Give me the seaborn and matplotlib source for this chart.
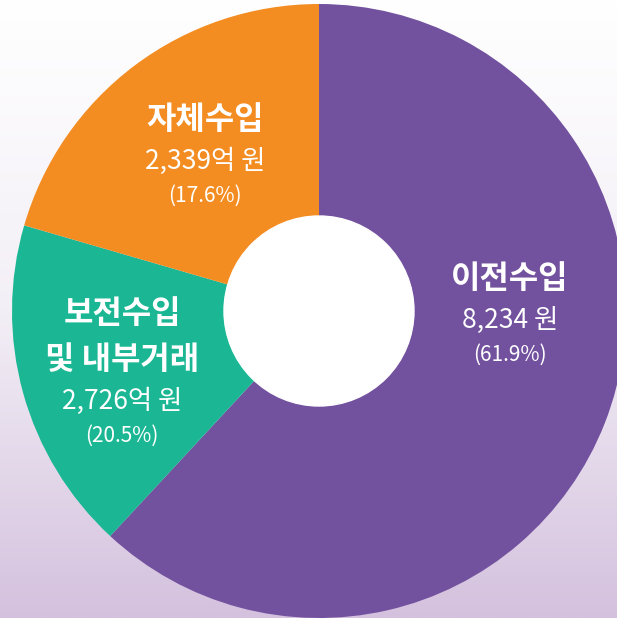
import numpy as np
import matplotlib.pyplot as plt
import matplotlib.colors as mcolors
from matplotlib.patches import Circle
import seaborn as sns

# data (wedge shares as drawn in the picture, clockwise from 12 o'clock)
categories = ['이전수입', '보전수입\n및 내부거래', '자체수입']
wedge_share = [61.9, 17.6, 20.5]
amount_labels = ['8,234 원', '2,726억 원', '2,339억 원']
pct_labels = ['(61.9%)', '(20.5%)', '(17.6%)']
colors = ['#72519e', '#1bb794', '#f38c21']

sns.set_theme(style='white')
plt.rcParams['font.family'] = ['Noto Sans CJK KR', 'DejaVu Sans']

W, H = 617, 618
fig = plt.figure(figsize=(W / 100, H / 100), dpi=100)

# background gradient (white at top -> light purple at bottom)
bg = fig.add_axes([0, 0, 1, 1], zorder=0)
grad = np.linspace(0, 1, 256).reshape(-1, 1)
cmap = mcolors.LinearSegmentedColormap.from_list(
    'bg', ['#ffffff', '#f3eff6', '#d4c1de'])
bg.imshow(grad, aspect='auto', cmap=cmap, extent=[0, 1, 1, 0])
bg.axis('off')

ax = fig.add_axes([0, 0, 1, 1], zorder=1)
ax.patch.set_alpha(0)
cx, cy, r_out, r_in = 319, H - 311, 307, 95
ax.pie(wedge_share, colors=colors, startangle=90, counterclock=False,
       center=(cx, cy), radius=r_out, frame=True,
       wedgeprops=dict(linewidth=0))
ax.add_patch(Circle((cx, cy), r_in, color='white', zorder=5))
ax.set_xlim(0, W)
ax.set_ylim(0, H)
ax.set_aspect('equal')
ax.axis('off')

# label positions (pixels from top-left)
label_pos = [(510, 279), (122, 314), (205, 120)]
for cat, amt, pct, (x, y) in zip(categories, amount_labels, pct_labels, label_pos):
    yy = y
    for ln in cat.split('\n'):
        ax.text(x, H - yy, ln, color='white', fontsize=23, fontweight='bold',
                ha='center', va='center', zorder=6)
        yy += 46
    ax.text(x, H - (yy - 5), amt, color='white', fontsize=19, fontweight='light',
            ha='center', va='center', zorder=6)
    ax.text(x, H - (yy + 30), pct, color='white', fontsize=15, fontweight='light',
            ha='center', va='center', zorder=6)

fig.savefig('out.png', dpi=100)
